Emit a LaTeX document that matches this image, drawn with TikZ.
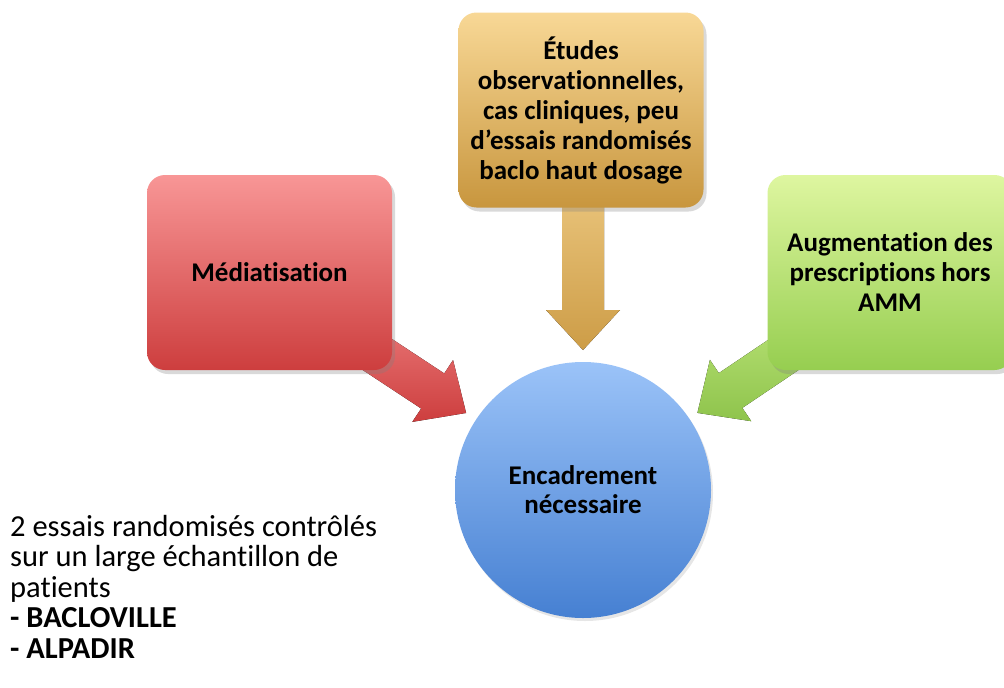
\documentclass[tikz,border=0pt]{standalone}
\usepackage{fontspec}
\setmainfont{Carlito}[Ligatures=NoCommon]
\usetikzlibrary{calc,shadows}
\pgfdeclarelayer{bg}
\pgfsetlayers{bg,main}
\definecolor{redT}{RGB}{248,150,150}
\definecolor{redB}{RGB}{205,62,62}
\definecolor{oraT}{RGB}{248,216,150}
\definecolor{oraB}{RGB}{200,150,62}
\definecolor{greT}{RGB}{222,246,160}
\definecolor{greB}{RGB}{150,206,80}
\definecolor{bluT}{RGB}{155,195,248}
\definecolor{bluB}{RGB}{70,128,210}
\newcommand\fatarr[3]{%
  \path coordinate (hb) at ($(#2)!40pt!(#1)$);
  \fill[#3] ($(#1)!21pt!90:(#2)$) -- ($(hb)!21pt!90:(#2)$) -- ($(hb)!37pt!90:(#2)$)
    -- (#2) -- ($(hb)!37pt!-90:(#2)$) -- ($(hb)!21pt!-90:(#2)$) -- ($(#1)!21pt!-90:(#2)$) -- cycle;
}
\tikzset{
  box/.style={rectangle, rounded corners=18pt, minimum width=245pt, minimum height=195pt,
    inner sep=0pt, align=center, font=\fontsize{27}{30}\selectfont\bfseries,
    drop shadow={opacity=0.3, shadow xshift=3pt, shadow yshift=-4pt}},
  redbox/.style={box, top color=redT, bottom color=redB},
  orabox/.style={box, top color=oraT, bottom color=oraB},
  grebox/.style={box, top color=greT, bottom color=greB},
  circ/.style={circle, minimum size=256pt, inner sep=0pt, align=center,
    top color=bluT, bottom color=bluB, font=\fontsize{27}{29}\selectfont\bfseries,
    drop shadow={opacity=0.2, shadow xshift=2pt, shadow yshift=-3pt}},
  redarr/.style={top color=redT!60!redB, bottom color=redB},
  oraarr/.style={top color=oraT!70!oraB, bottom color=oraB!90!oraT},
  grearr/.style={top color=greT!40!greB, bottom color=greB!95!black},
  notes/.style={anchor=north west, inner sep=0pt, align=left, font=\fontsize{30.5}{30.5}\selectfont}
}
\begin{document}
\begin{tikzpicture}[x=1pt,y=-1pt]
\useasboundingbox (0,0) rectangle (1004,688);
\clip (0,0) rectangle (1004,688);
\node[redbox] (red) at (269.5,272.5) {Médiatisation};
\node[orabox] (ora) at (581,110) {Études\\observationnelles,\\cas cliniques, peu\\d’essais randomisés\\baclo haut dosage};
\node[grebox] (gre) at (890,272.5) {Augmentation des\\prescriptions hors\\AMM};
\node[circ] (c) at (583,490) {Encadrement\\nécessaire};
\coordinate (rs) at ($(red.south east)+(-32,-27)$);
\coordinate (os) at ($(ora.south)+(2,-20)$);
\coordinate (gs) at ($(gre.south west)+(32,-26)$);
\coordinate (rt) at ($(c.center)!140pt!(rs)$);
\coordinate (ot) at ($(c.center)!140pt!(os)$);
\coordinate (gt) at ($(c.center)!138pt!(gs)$);
\begin{pgfonlayer}{bg}
\fatarr{rs}{rt}{redarr}
\fatarr{os}{ot}{oraarr}
\fatarr{gs}{gt}{grearr}
\end{pgfonlayer}
\node[notes] (txt) at (10,515) {2 essais randomisés contrôlés\\sur un large échantillon de\\patients\\\textbf{- BACLOVILLE}\\\textbf{- ALPADIR}};
\end{tikzpicture}
\end{document}
